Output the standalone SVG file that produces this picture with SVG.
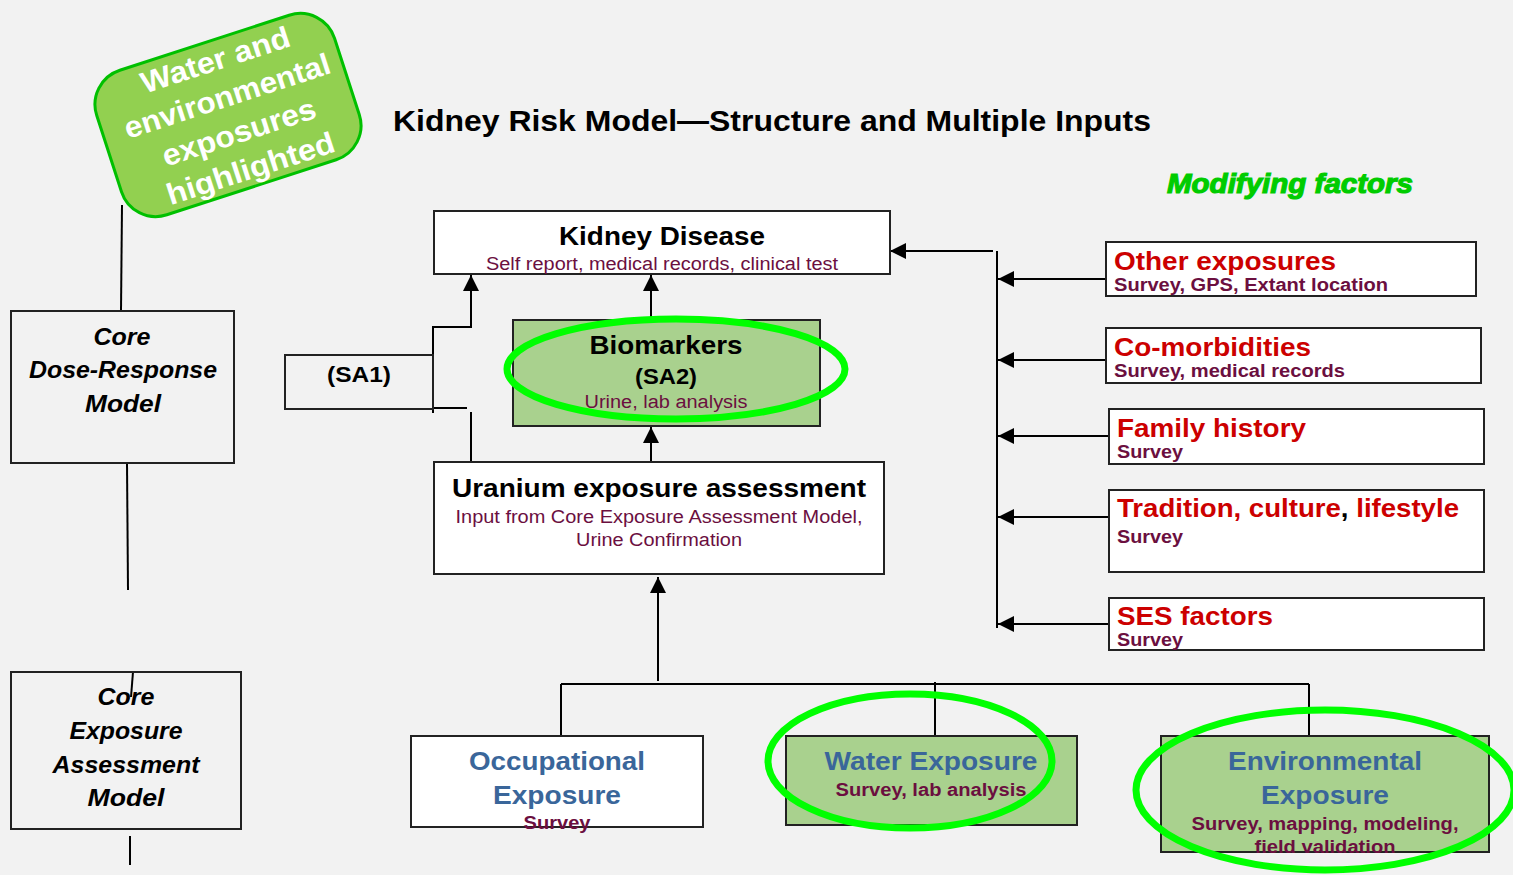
<svg xmlns="http://www.w3.org/2000/svg" width="1513" height="875" viewBox="0 0 1513 875">
<defs>
<marker id="ah" viewBox="0 0 10 10" refX="10" refY="5" markerWidth="16" markerHeight="16" markerUnits="userSpaceOnUse" orient="auto">
<path d="M0,0 L10,5 L0,10 z" fill="#000"/>
</marker>
</defs>
<style>
text{font-family:"Liberation Sans",Arial,sans-serif}
.box{fill:#fff;stroke:#222;stroke-width:2}
.gbox{fill:#a9d18e;stroke:#222;stroke-width:2}
.obox{fill:none;stroke:#222;stroke-width:2}
.ring{fill:none;stroke:#00ff00;stroke-width:7}
.h{font-weight:bold;font-size:26px;fill:#000;text-anchor:middle}
.sub{font-size:18px;fill:#6b0f3f;text-anchor:middle}
.bsub{font-size:18px;font-weight:bold;fill:#6b0f3f}
.blue{font-weight:bold;font-size:26px;fill:#3a669a;text-anchor:middle}
.red{font-weight:bold;font-size:26px;fill:#cc0000}
.core{font-weight:bold;font-style:italic;font-size:24px;fill:#000;text-anchor:middle}
.ln{stroke:#000;stroke-width:2;fill:none}
.arr{stroke:#000;stroke-width:2;fill:none;marker-end:url(#ah)}
</style>
<rect width="1513" height="875" fill="#f2f2f2"/>

<text x="772" y="131" font-size="30" font-weight="bold" text-anchor="middle" textLength="758" lengthAdjust="spacingAndGlyphs">Kidney Risk Model—Structure and Multiple Inputs</text>
<text x="1290" y="193" font-size="28" font-weight="bold" font-style="italic" fill="#00cc00" stroke="#00cc00" stroke-width="1.2" text-anchor="middle" textLength="246" lengthAdjust="spacingAndGlyphs">Modifying factors</text>

<g id="connectors">
<line class="ln" x1="122" y1="205" x2="121" y2="311"/>
<line class="ln" x1="127" y1="463" x2="128" y2="590"/>
<line class="ln" x1="133" y1="672" x2="131" y2="697"/>
<line class="ln" x1="130" y1="836" x2="130" y2="865"/>
<line class="ln" x1="433" y1="326" x2="433" y2="413"/>
<polyline class="arr" points="433,327 471,327 471,275"/>
<line class="ln" x1="433" y1="408" x2="467" y2="408"/>
<line class="ln" x1="471" y1="412" x2="471" y2="462"/>
<line class="arr" x1="651" y1="320" x2="651" y2="275"/>
<line class="arr" x1="651" y1="462" x2="651" y2="427"/>
<line class="arr" x1="658" y1="681" x2="658" y2="577"/>
<line class="ln" x1="561" y1="684" x2="1309" y2="684"/>
<line class="ln" x1="561" y1="684" x2="561" y2="736"/>
<line class="ln" x1="935" y1="682" x2="935" y2="736"/>
<line class="ln" x1="1309" y1="684" x2="1309" y2="736"/>
<line class="arr" x1="993" y1="251" x2="890" y2="251"/>
<line class="ln" x1="997" y1="251" x2="997" y2="628"/>
<line class="arr" x1="1106" y1="279" x2="998" y2="279"/>
<line class="arr" x1="1106" y1="360" x2="998" y2="360"/>
<line class="arr" x1="1108" y1="436" x2="998" y2="436"/>
<line class="arr" x1="1108" y1="517" x2="998" y2="517"/>
<line class="arr" x1="1108" y1="624" x2="998" y2="624"/>
</g>

<g id="callout" transform="translate(228,115) rotate(-18)">
<rect x="-125" y="-76" width="250" height="152" rx="36" fill="#92d050" stroke="#00c000" stroke-width="3"/>
<g font-size="30" font-weight="bold" fill="#fff" text-anchor="middle">
<text x="5" y="-46" textLength="155" lengthAdjust="spacingAndGlyphs">Water and</text>
<text x="5" y="-8" textLength="215" lengthAdjust="spacingAndGlyphs">environmental</text>
<text x="5" y="30" textLength="160" lengthAdjust="spacingAndGlyphs">exposures</text>
<text x="5" y="68" textLength="175" lengthAdjust="spacingAndGlyphs">highlighted</text>
</g>
</g>

<g id="core-dose">
<rect class="obox" x="11" y="311" width="223" height="152"/>
<text class="core" x="122" y="345" textLength="57" lengthAdjust="spacingAndGlyphs">Core</text>
<text class="core" x="123" y="378" textLength="188" lengthAdjust="spacingAndGlyphs">Dose-Response</text>
<text class="core" x="123" y="412" textLength="76" lengthAdjust="spacingAndGlyphs">Model</text>
</g>

<g id="core-exposure">
<rect class="obox" x="11" y="672" width="230" height="157"/>
<text class="core" x="126" y="705" textLength="57" lengthAdjust="spacingAndGlyphs">Core</text>
<text class="core" x="126" y="739" textLength="113" lengthAdjust="spacingAndGlyphs">Exposure</text>
<text class="core" x="126" y="773" textLength="147" lengthAdjust="spacingAndGlyphs">Assessment</text>
<text class="core" x="126" y="806" textLength="77" lengthAdjust="spacingAndGlyphs">Model</text>
</g>

<g id="sa1">
<rect class="obox" x="285" y="355" width="148" height="54"/>
<text x="359" y="382" font-size="22" font-weight="bold" text-anchor="middle" textLength="64" lengthAdjust="spacingAndGlyphs">(SA1)</text>
</g>

<g id="kidney-disease">
<rect class="box" x="434" y="211" width="456" height="63"/>
<text class="h" x="662" y="245" textLength="206" lengthAdjust="spacingAndGlyphs">Kidney Disease</text>
<text class="sub" x="662" y="270" textLength="352" lengthAdjust="spacingAndGlyphs">Self report, medical records, clinical test</text>
</g>

<g id="biomarkers">
<rect class="gbox" x="513" y="320" width="307" height="106"/>
<text class="h" x="666" y="354" textLength="153" lengthAdjust="spacingAndGlyphs">Biomarkers</text>
<text x="666" y="384" font-size="22" font-weight="bold" text-anchor="middle" textLength="62" lengthAdjust="spacingAndGlyphs">(SA2)</text>
<text class="sub" x="666" y="408" textLength="163" lengthAdjust="spacingAndGlyphs">Urine, lab analysis</text>
<ellipse class="ring" cx="676" cy="369" rx="169" ry="50"/>
</g>

<g id="uranium">
<rect class="box" x="434" y="462" width="450" height="112"/>
<text class="h" x="659" y="497" textLength="414" lengthAdjust="spacingAndGlyphs">Uranium exposure assessment</text>
<text class="sub" x="659" y="523" textLength="407" lengthAdjust="spacingAndGlyphs">Input from Core Exposure Assessment Model,</text>
<text class="sub" x="659" y="546" textLength="166" lengthAdjust="spacingAndGlyphs">Urine Confirmation</text>
</g>

<g id="occupational">
<rect class="box" x="411" y="736" width="292" height="91"/>
<text class="blue" x="557" y="770" textLength="176" lengthAdjust="spacingAndGlyphs">Occupational</text>
<text class="blue" x="557" y="804" textLength="128" lengthAdjust="spacingAndGlyphs">Exposure</text>
<text class="bsub" x="557" y="829" text-anchor="middle" textLength="67" lengthAdjust="spacingAndGlyphs">Survey</text>
</g>

<g id="water">
<rect class="gbox" x="786" y="736" width="291" height="89"/>
<text class="blue" x="931" y="770" textLength="213" lengthAdjust="spacingAndGlyphs">Water Exposure</text>
<text class="bsub" x="931" y="796" text-anchor="middle" textLength="191" lengthAdjust="spacingAndGlyphs">Survey, lab analysis</text>
<ellipse class="ring" cx="910" cy="761" rx="142" ry="67"/>
</g>

<g id="environmental">
<rect class="gbox" x="1161" y="736" width="328" height="116"/>
<text class="blue" x="1325" y="770" textLength="194" lengthAdjust="spacingAndGlyphs">Environmental</text>
<text class="blue" x="1325" y="804" textLength="128" lengthAdjust="spacingAndGlyphs">Exposure</text>
<text class="bsub" x="1325" y="830" text-anchor="middle" textLength="267" lengthAdjust="spacingAndGlyphs">Survey, mapping, modeling,</text>
<text class="bsub" x="1325" y="853" text-anchor="middle" textLength="141" lengthAdjust="spacingAndGlyphs">field validation</text>
<ellipse class="ring" cx="1325" cy="790" rx="189" ry="80"/>
</g>

<g id="other-exposures">
<rect class="box" x="1106" y="242" width="370" height="54"/>
<text class="red" x="1114" y="270" textLength="222" lengthAdjust="spacingAndGlyphs">Other exposures</text>
<text class="bsub" x="1114" y="291" textLength="274" lengthAdjust="spacingAndGlyphs">Survey, GPS, Extant location</text>
</g>

<g id="co-morbidities">
<rect class="box" x="1106" y="328" width="375" height="55"/>
<text class="red" x="1114" y="356" textLength="197" lengthAdjust="spacingAndGlyphs">Co-morbidities</text>
<text class="bsub" x="1114" y="377" textLength="231" lengthAdjust="spacingAndGlyphs">Survey, medical records</text>
</g>

<g id="family-history">
<rect class="box" x="1109" y="409" width="375" height="55"/>
<text class="red" x="1117" y="437" textLength="189" lengthAdjust="spacingAndGlyphs">Family history</text>
<text class="bsub" x="1117" y="458" textLength="66" lengthAdjust="spacingAndGlyphs">Survey</text>
</g>

<g id="tradition">
<rect class="box" x="1109" y="490" width="375" height="82"/>
<text class="red" x="1117" y="517" textLength="342" lengthAdjust="spacingAndGlyphs">Tradition, culture<tspan fill="#000">,</tspan> lifestyle</text>
<text class="bsub" x="1117" y="543" textLength="66" lengthAdjust="spacingAndGlyphs">Survey</text>
</g>

<g id="ses">
<rect class="box" x="1109" y="598" width="375" height="52"/>
<text class="red" x="1117" y="625" textLength="156" lengthAdjust="spacingAndGlyphs">SES factors</text>
<text class="bsub" x="1117" y="646" textLength="66" lengthAdjust="spacingAndGlyphs">Survey</text>
</g>
</svg>
